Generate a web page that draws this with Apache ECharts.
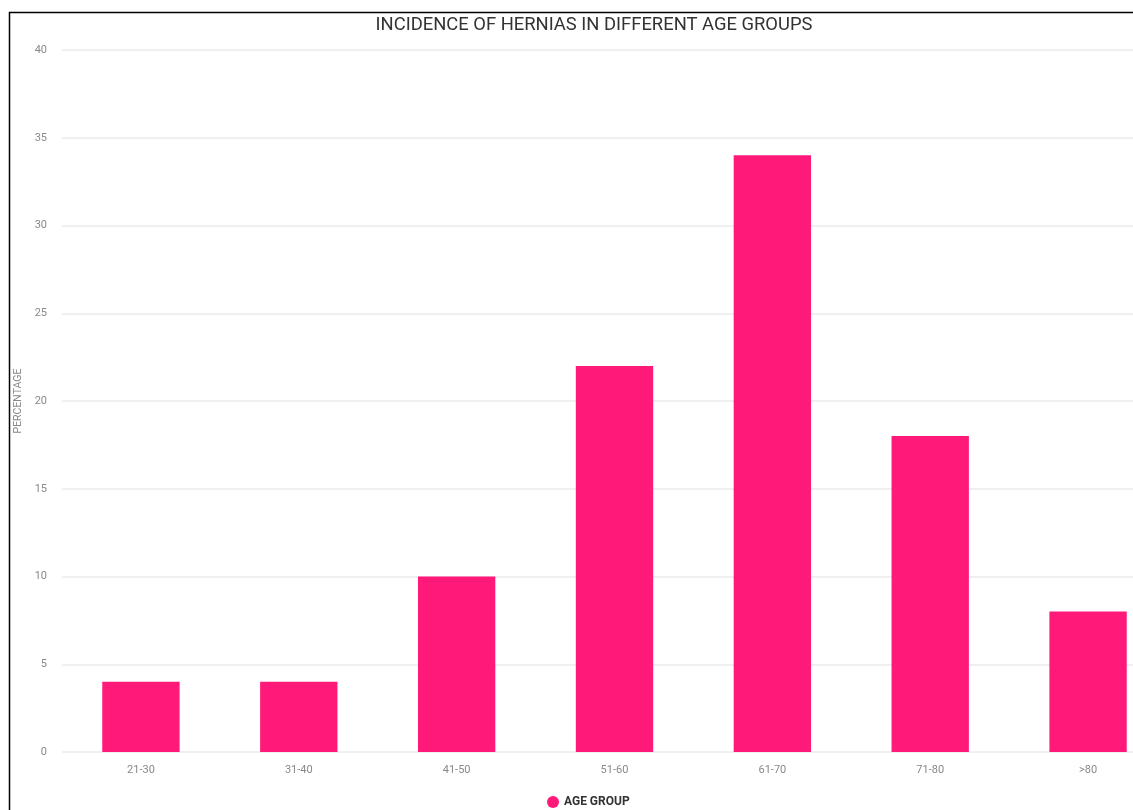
<!DOCTYPE html>
<html>
<head>
<meta charset="utf-8">
<script src="https://cdn.jsdelivr.net/npm/echarts@6/dist/echarts.min.js"></script>
<style>
  html, body { margin: 0; padding: 0; background: #fff; overflow: hidden; }
  /* the chart is wider than the window; its right part is cut off */
  #chart { width: 1167px; height: 810px; }
</style>
</head>
<body>
<div id="chart"></div>
<script>
// Age groups and the share of hernia cases in each (percent)
const ageGroups = ['21-30', '31-40', '41-50', '51-60', '61-70', '71-80', '>80'];
const percentages = [4, 4, 10, 22, 34, 18, 8];
const yTicks = { min: 0, max: 40, interval: 5 };

const chart = echarts.init(document.getElementById('chart'));
chart.setOption({
  backgroundColor: '#fff',
  animation: false,
  title: {
    text: 'INCIDENCE OF HERNIAS IN DIFFERENT AGE GROUPS',
    left: 589,
    top: 11,
    textAlign: 'center',
    textStyle: { fontFamily: 'Roboto', fontSize: 18.4, fontWeight: 'normal', color: '#333' }
  },
  legend: {
    data: ['AGE GROUP'],
    left: 542,
    top: 791,
    icon: 'circle',
    itemWidth: 12,
    itemHeight: 12,
    itemGap: 8,
    textStyle: { fontFamily: 'Roboto', fontSize: 12, fontWeight: 'bold', color: '#333' }
  },
  grid: { left: 62, right: 0, top: 50, bottom: 58, containLabel: false },
  xAxis: {
    type: 'category',
    data: ageGroups,
    axisLine: { show: false },
    axisTick: { show: false },
    axisLabel: { fontFamily: 'Roboto', fontSize: 11, color: '#888', margin: 13 }
  },
  yAxis: {
    type: 'value',
    min: yTicks.min,
    max: yTicks.max,
    interval: yTicks.interval,
    name: 'PERCENTAGE',
    nameLocation: 'middle',
    nameGap: 38,
    nameTextStyle: { fontFamily: 'Roboto', fontSize: 10.5, color: '#888' },
    axisLine: { show: false },
    axisTick: { show: false },
    axisLabel: { fontFamily: 'Roboto', fontSize: 11, color: '#888', margin: 15 },
    splitLine: { lineStyle: { color: '#ebebeb', width: 1.5 } }
  },
  series: [{
    name: 'AGE GROUP',
    type: 'bar',
    data: percentages,
    barWidth: '49%',
    itemStyle: { color: '#ff1a7a' }
  }],
  graphic: [{
    type: 'polyline',
    shape: { points: [[9.5, 810], [9.5, 12.5], [1167, 12.5]] },
    style: { stroke: '#000', lineWidth: 1.5, fill: null },
    z: 100
  }]
});
</script>
</body>
</html>
